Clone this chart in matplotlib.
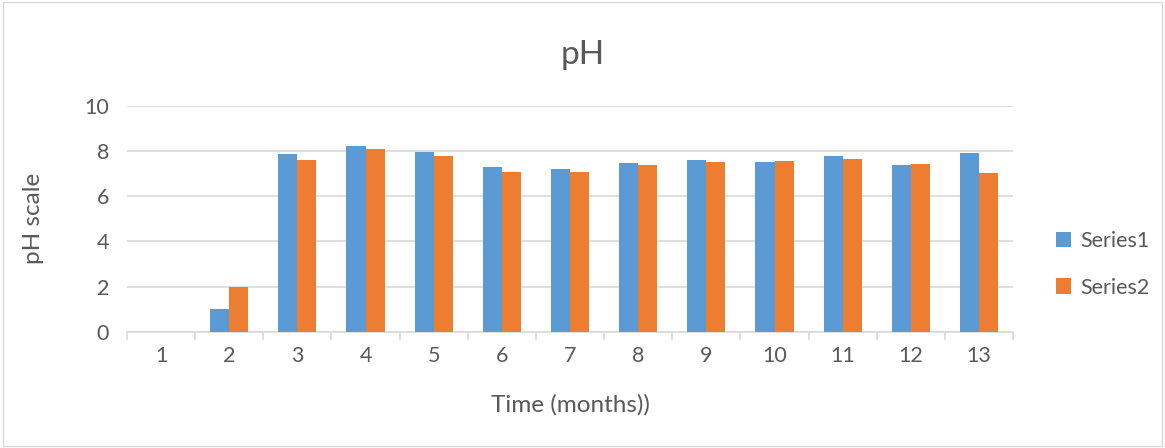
import numpy as np
import matplotlib.pyplot as plt
from matplotlib.patches import Rectangle

# valeurs
months = [str(i) for i in range(1, 14)]
series1 = [0, 1.0, 7.87, 8.2, 7.95, 7.28, 7.19, 7.47, 7.6, 7.51, 7.78, 7.39, 7.89]
series2 = [0, 2.0, 7.6, 8.07, 7.76, 7.08, 7.08, 7.39, 7.51, 7.56, 7.63, 7.42, 7.01]

blue = '#5b9bd5'
orange = '#ed7d31'
grey = '#595959'
plt.rcParams['font.family'] = ['Lato', 'DejaVu Sans']

fig = plt.figure(figsize=(11.65, 4.48), dpi=100)
ax = fig.add_axes([0.109, 0.259, 0.7606, 0.505])

x = np.arange(len(months))
w = 0.28
ax.bar(x - w / 2, series1, w, color=blue, label='Series1', zorder=3)
ax.bar(x + w / 2, series2, w, color=orange, label='Series2', zorder=3)

ax.set_xlim(-0.5, len(months) - 0.5)
ax.set_ylim(0, 10)
ax.set_yticks(range(0, 11, 2))
ax.yaxis.grid(True, color='#d9d9d9', linewidth=1.2, zorder=0)
ax.set_xticks(x)
ax.set_xticklabels(months)
ax.set_xticks(np.arange(-0.5, len(months)), minor=True)
ax.tick_params(axis='x', which='major', length=0, pad=10, labelsize=15.5, labelcolor=grey)
ax.tick_params(axis='x', which='minor', length=6, color='#d9d9d9', width=1.2)
ax.tick_params(axis='y', length=0, pad=13, labelsize=15.5, labelcolor=grey)
for s in ['top', 'right', 'left']:
    ax.spines[s].set_visible(False)
ax.spines['bottom'].set_color('#d9d9d9')
ax.spines['bottom'].set_linewidth(1.2)

ax.set_xlabel('Time (months))', fontsize=17.5, color=grey)
ax.set_ylabel('pH scale', fontsize=17.5, color=grey)
ax.xaxis.set_label_coords(0.5, -0.323)
ax.yaxis.set_label_coords(-0.106, 0.5)
ax.xaxis.label.set_va('center')
ax.yaxis.label.set_va('center')
fig.text(0.5, 0.877, 'pH', ha='center', va='center', fontsize=24, color=grey)

ax.legend(loc='center left', bbox_to_anchor=(1.027, 0.30), frameon=False,
          fontsize=15.5, labelcolor=grey, handlelength=0.7, handleheight=0.7,
          labelspacing=1.25, handletextpad=0.4)

# bordure du graphique
fig.patches.append(Rectangle((0.003, 0.005), 0.994, 0.99, transform=fig.transFigure,
                             fill=False, edgecolor='#d9d9d9', linewidth=1))

fig.savefig('out.png', dpi=100)
